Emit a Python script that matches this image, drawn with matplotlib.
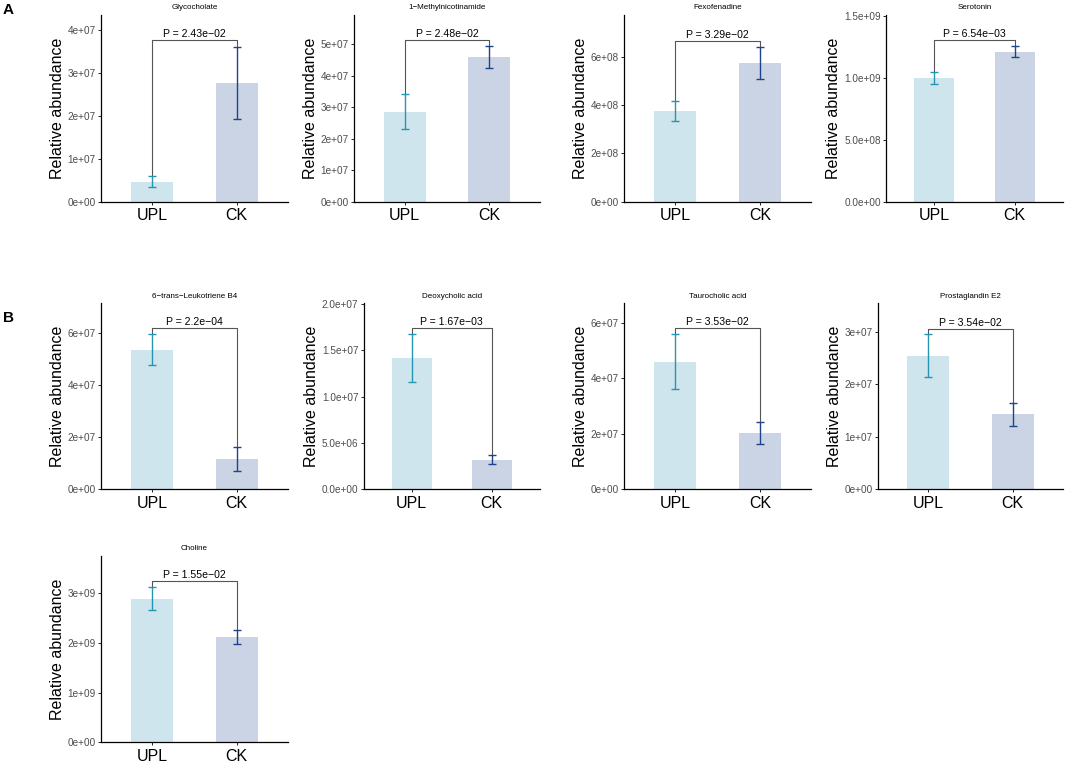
import matplotlib.pyplot as plt

plt.rcParams['font.family'] = ['Liberation Sans', 'DejaVu Sans']

groups = ['UPL', 'CK']

names = ['Glycocholate', '1-Methylnicotinamide', 'Fexofenadine', 'Serotonin',
         '6-trans-Leukotriene B4', 'Deoxycholic acid', 'Taurocholic acid',
         'Prostaglandin E2', 'Choline']
names = [n.replace('-', '\u2212') for n in names]

# mean bar heights (UPL, CK)
means = [(4.7e6, 2.76e7), (2.84e7, 4.59e7), (3.75e8, 5.73e8), (1.003e9, 1.21e9),
         (5.34e7, 1.16e7), (1.414e7, 3.16e6), (4.60e7, 2.02e7), (2.54e7, 1.43e7),
         (2.89e9, 2.11e9)]
# error bar (low, high) per group
err_lo = [(3.5e6, 1.92e7), (2.30e7, 4.24e7), (3.35e8, 5.06e8), (0.955e9, 1.17e9),
          (4.76e7, 0.71e7), (1.161e7, 2.76e6), (3.61e7, 1.63e7), (2.14e7, 1.21e7),
          (2.66e9, 1.98e9)]
err_hi = [(6.0e6, 3.61e7), (3.41e7, 4.93e7), (4.18e8, 6.41e8), (1.05e9, 1.26e9),
          (5.95e7, 1.63e7), (1.673e7, 3.67e6), (5.59e7, 2.43e7), (2.95e7, 1.65e7),
          (3.13e9, 2.26e9)]
pvals = ['2.43e\u221202', '2.48e\u221202', '3.29e\u221202', '6.54e\u221203',
         '2.2e\u221204', '1.67e\u221203', '3.53e\u221202', '3.54e\u221202',
         '1.55e\u221202']
bracket_y = [3.77e7, 5.14e7, 6.66e8, 1.31e9, 6.19e7, 1.738e7, 5.80e7, 3.06e7, 3.25e9]
ymax = [4.35e7, 5.93e7, 7.72e8, 1.51e9, 7.13e7, 2.007e7, 6.70e7, 3.54e7, 3.75e9]
yticks = [[0, 1e7, 2e7, 3e7, 4e7], [0, 1e7, 2e7, 3e7, 4e7, 5e7], [0, 2e8, 4e8, 6e8],
          [0, 5e8, 1e9, 1.5e9], [0, 2e7, 4e7, 6e7], [0, 5e6, 1e7, 1.5e7, 2e7],
          [0, 2e7, 4e7, 6e7], [0, 1e7, 2e7, 3e7], [0, 1e9, 2e9, 3e9]]
tick_fmt = ['%.0e', '%.0e', '%.0e', '%.1e', '%.0e', '%.1e', '%.0e', '%.0e', '%.0e']

# axes boxes in pixels: left, right, top, bottom
boxes = [(101, 287.7, 15, 201.7), (354, 540, 15, 201.7), (624, 811, 15, 201.7),
         (886, 1063, 15, 201.7), (101, 287.7, 303.3, 489.3), (363.5, 539.7, 303.3, 489.3),
         (624, 811, 303.3, 489.3), (878, 1063, 303.3, 489.3), (101, 287.7, 556, 742.3)]

W, H = 1065, 762
bar_cols = ['#cfe5ed', '#cad4e4']
err_cols = ['#2596b2', '#1f428c']

fig = plt.figure(figsize=(W / 100, H / 100), dpi=100)

for i in range(len(names)):
    l, r, t, b = boxes[i]
    ax = fig.add_axes([l / W, 1 - b / H, (r - l) / W, (b - t) / H])
    xs = [1, 2]
    ax.bar(xs, means[i], width=0.5, color=bar_cols, zorder=1)
    for j in range(2):
        m = means[i][j]
        ax.errorbar(xs[j], m, yerr=[[m - err_lo[i][j]], [err_hi[i][j] - m]],
                    color=err_cols[j], lw=1.0, capsize=3, capthick=1.0, zorder=3)
    by = bracket_y[i]
    ax.plot([1, 1, 2, 2], [err_hi[i][0], by, by, err_hi[i][1]], color='#555555',
            lw=0.8, zorder=2)
    ax.text(1.5, by + ymax[i] * 0.005, 'P = ' + pvals[i], ha='center', va='bottom',
            fontsize=7.6)
    ax.set_xlim(0.4, 2.6)
    ax.set_ylim(0, ymax[i])
    ax.set_xticks(xs)
    ax.set_xticklabels(groups, fontsize=11.5)
    ax.set_yticks(yticks[i])
    ax.set_yticklabels([(tick_fmt[i] % v).replace('-', '\u2212') for v in yticks[i]],
                       fontsize=7.2, color='#4d4d4d')
    ax.tick_params(length=2.5, width=0.6, pad=1.2)
    ax.tick_params(axis='x', pad=2)
    ax.set_ylabel('Relative abundance', fontsize=11.5, labelpad=2)
    ax.set_title(names[i], fontsize=5.8, pad=4)
    for s in ['top', 'right']:
        ax.spines[s].set_visible(False)
    for s in ['left', 'bottom']:
        ax.spines[s].set_linewidth(0.9)

fig.text(3 / W, 1 - 10 / H, 'A', fontsize=11, fontweight='bold', va='center')
fig.text(3 / W, 1 - 318 / H, 'B', fontsize=11, fontweight='bold', va='center')

fig.savefig('out.png', dpi=100)
